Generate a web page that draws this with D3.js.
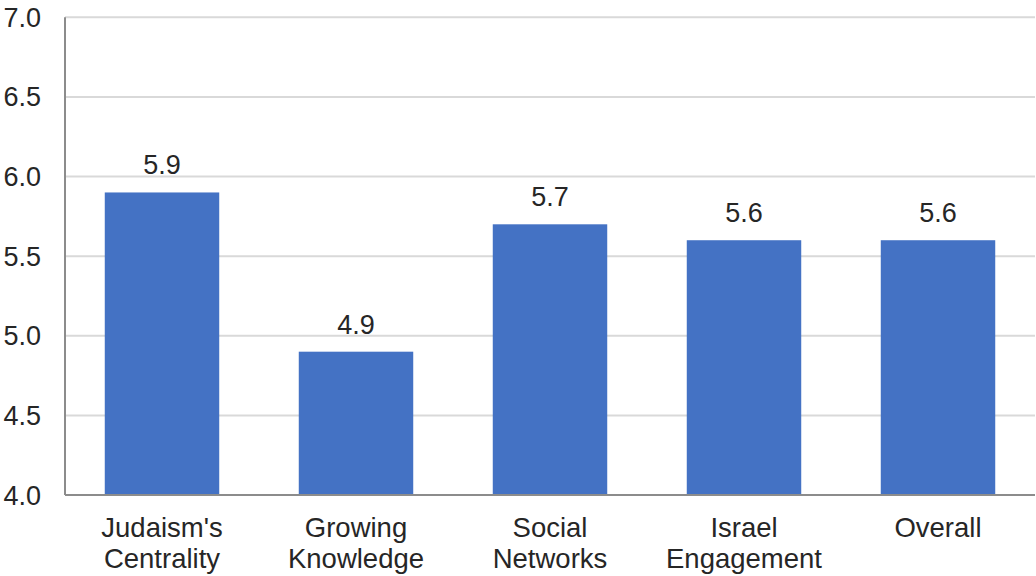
<!DOCTYPE html>
<html><head><meta charset="utf-8">
<script src="https://cdn.jsdelivr.net/npm/d3@7"></script>
<style>body{margin:0;background:#fff}svg{display:block}text{font-family:"Liberation Sans",Arial,sans-serif;fill:#262626}</style>
</head><body><svg id="c" width="1036" height="576"></svg>
<script>
const categories = [["Judaism's","Centrality"],["Growing","Knowledge"],["Social","Networks"],["Israel","Engagement"],["Overall"]];
const values = [5.9, 4.9, 5.7, 5.6, 5.6];
const valueLabels = ["5.9","4.9","5.7","5.6","5.6"];
const yTicks = [4.0,4.5,5.0,5.5,6.0,6.5,7.0];

const svg = d3.select("#c");
const m = {l:65, r:1, t:17.3, b:495};
const x = d3.scaleBand().domain(d3.range(categories.length)).range([m.l, 1036 - m.r]).paddingInner(0.41).paddingOuter(0.205);
const y = d3.scaleLinear().domain([4,7]).range([m.b, m.t]);

svg.append("g").selectAll("line").data(yTicks.slice(1)).join("line")
  .attr("x1", m.l).attr("x2", 1036 - m.r).attr("y1", d=>y(d)).attr("y2", d=>y(d))
  .attr("stroke","#d9d9d9").attr("stroke-width",2);

svg.append("g").selectAll("rect").data(values).join("rect")
  .attr("x",(d,i)=>x(i)).attr("width",x.bandwidth())
  .attr("y",d=>y(d)).attr("height",d=>y(4)-y(d)).attr("fill","#4472c4");

svg.append("line").attr("x1",m.l).attr("x2",m.l).attr("y1",m.t).attr("y2",m.b).attr("stroke","#8c8c8c").attr("stroke-width",2);
svg.append("line").attr("x1",m.l).attr("x2",1036-m.r).attr("y1",m.b).attr("y2",m.b).attr("stroke","#8c8c8c").attr("stroke-width",2);

svg.append("g").selectAll("text").data(yTicks).join("text")
  .attr("x", 41).attr("y", d=>y(d)+9.5).attr("text-anchor","end").attr("font-size",27)
  .text(d=>d.toFixed(1));

svg.append("g").selectAll("text").data(values).join("text")
  .attr("x",(d,i)=>x(i)+x.bandwidth()/2).attr("y",d=>y(d)-18).attr("text-anchor","middle").attr("font-size",27)
  .text((d,i)=>valueLabels[i]);

const cat = svg.append("g").selectAll("text").data(categories).join("text")
  .attr("x",(d,i)=>x(i)+x.bandwidth()/2).attr("y",537).attr("text-anchor","middle").attr("font-size",27.5);
cat.selectAll("tspan").data(d=>d).join("tspan")
  .attr("x",function(){return this.parentNode.getAttribute("x");})
  .attr("dy",(d,j)=>j===0?0:31).text(d=>d);
</script></body></html>
